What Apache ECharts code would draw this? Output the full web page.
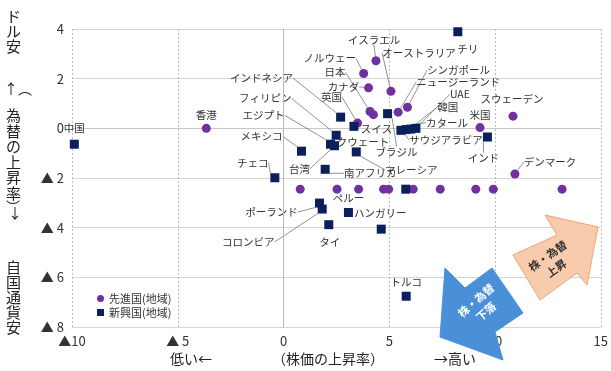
<!DOCTYPE html>
<html><head><meta charset="utf-8">
<script src="https://cdn.jsdelivr.net/npm/echarts@6/dist/echarts.min.js"></script>
<style>html,body{margin:0;padding:0;background:#fff}#c{width:611px;height:371px}</style>
</head><body><div id="c"></div>
<script>
const FONT = '"Noto Sans CJK JP", "Noto Sans", sans-serif';

// ---- data (x: 株価の上昇率 %, y: 為替の上昇率 %) ----
const advNames = ['香港','イスラエル','ノルウェー','カナダ','日本','スイス','英国','オーストラリア','ニュージーランド','シンガポール','米国','スウェーデン','デンマーク','','','','','','','','','',''];
const advX = [-3.65, 4.37, 3.79, 4.02, 4.09, 4.25, 3.50, 5.08, 5.42, 5.86, 9.29, 10.85, 10.94, 0.79, 2.53, 3.55, 4.73, 4.97, 6.13, 7.41, 9.09, 9.92, 13.17];
const advY = [0.0, 2.72, 2.21, 1.63, 0.68, 0.55, 0.21, 1.49, 0.65, 0.85, 0.03, 0.49, -1.84, -2.45, -2.45, -2.45, -2.45, -2.45, -2.45, -2.45, -2.45, -2.45, -2.45];

const emgNames = ['中国','チリ','インドネシア','ブラジル','クウェート','フィリピン','エジプト','台湾','メキシコ','マレーシア','南アフリカ','チェコ','サウジアラビア','カタール','韓国','UAE','インド','','ポーランド','コロンビア','ペルー','タイ','ハンガリー','トルコ'];
const emgX = [-9.89, 8.24, 2.70, 4.92, 3.33, 2.49, 2.22, 2.41, 0.85, 3.44, 1.97, -0.41, 5.55, 5.79, 6.02, 6.26, 9.64, 5.78, 1.70, 1.83, 3.07, 2.14, 4.62, 5.80];
const emgY = [-0.64, 3.89, 0.45, 0.59, 0.08, -0.28, -0.64, -0.70, -0.92, -0.95, -1.65, -1.99, -0.08, -0.05, -0.03, 0.0, -0.35, -2.45, -3.01, -3.25, -3.39, -3.88, -4.06, -6.76];

const seriesNames = ['先進国(地域)', '新興国(地域)'];
const xMin = -10, xMax = 15, xStep = 5;
const yMin = -8, yMax = 4, yStep = 2;

// ---- label placement (offset of label centre from point, px; leader line flag) ----
const advLabelPos = {
  '香港':[0,-13,0], 'イスラエル':[-2,-21,1], 'ノルウェー':[-34,-15,1], 'カナダ':[-25,-1,1],
  '日本':[-35,-39,1], 'スイス':[3,14,0], '英国':[-26,-26,1], 'オーストラリア':[28,-38,1],
  'ニュージーランド':[60,-30,1], 'シンガポール':[51,-37,1], '米国':[0,-13,0],
  'スウェーデン':[-1,-17,0], 'デンマーク':[35,-12,1]
};
const emgLabelPos = {
  '中国':[0,-16,0], 'チリ':[10,17,0], 'インドネシア':[-79,-39,1], 'ブラジル':[9,38,1],
  'クウェート':[9,16,0], 'フィリピン':[-71,-37,1], 'エジプト':[-67,-29,1], '台湾':[-35,23,1],
  'メキシコ':[-40,-15,1], 'マレーシア':[55,18,1], '南アフリカ':[45,4,1], 'チェコ':[-22,-15,1],
  'サウジアラビア':[45,10,1], 'カタール':[41,-7,1], '韓国':[37,-22,1], 'UAE':[44,-34,1],
  'インド':[-4,21,1], 'ポーランド':[-48,9,1], 'コロンビア':[-74,33,1], 'ペルー':[0,-15,0],
  'タイ':[1,17,0], 'ハンガリー':[-1,-16,0], 'トルコ':[0,-14,0]
};

function buildData(names, xs, ys, posMap) {
  return names.map((n, i) => {
    const p = posMap[n];
    return {
      name: n,
      value: [xs[i], ys[i]],
      label: { show: !!p },
      labelLine: { show: !!(p && p[2]) }
    };
  });
}
function layoutFor(names, posMap) {
  return function (params) {
    const p = posMap[names[params.dataIndex]];
    if (!p) return {};
    return { dx: p[0], dy: p[1] };
  };
}
function tri(v) {
  if (v < 0) { const a = Math.abs(v); return a >= 10 ? '▲' + a : '▲ ' + a; }
  return String(v);
}

const labelCommon = {
  show: true, position: 'inside', formatter: '{b}',
  color: '#333', fontSize: 10.5, fontFamily: FONT
};
const lineCommon = { show: true, lineStyle: { color: '#777', width: 0.8 } };

const chart = echarts.init(document.getElementById('c'), null, { renderer: 'canvas' });
chart.setOption({
  animation: false,
  backgroundColor: '#fff',
  textStyle: { fontFamily: FONT },
  grid: { left: 72, right: 9, top: 29, bottom: 44 },
  xAxis: {
    type: 'value', min: xMin, max: xMax, interval: xStep,
    axisLine: { show: true, lineStyle: { color: '#c8c8c8' } },
    axisTick: { show: false },
    axisLabel: { color: '#333', fontSize: 13, margin: 8, formatter: tri, fontFamily: FONT },
    splitLine: { show: true, lineStyle: { color: '#bdbdbd', type: [2, 2], width: 1 } }
  },
  yAxis: {
    type: 'value', min: yMin, max: yMax, interval: yStep,
    axisLine: { show: false },
    axisTick: { show: false },
    axisLabel: { color: '#333', fontSize: 13, margin: 8, formatter: tri, fontFamily: FONT },
    splitLine: { show: true, lineStyle: { color: '#d4d4d4', width: 1 } }
  },
  legend: {
    orient: 'vertical', left: 92, top: 288, itemGap: 3,
    itemWidth: 7, itemHeight: 7,
    textStyle: { color: '#333', fontSize: 11, fontFamily: FONT },
    data: [{ name: seriesNames[0], icon: 'circle' }, { name: seriesNames[1], icon: 'rect' }]
  },
  series: [
    {
      name: seriesNames[0], type: 'scatter', symbol: 'circle', symbolSize: 9,
      itemStyle: { color: '#7030a0', opacity: 1 },
      data: buildData(advNames, advX, advY, advLabelPos),
      label: labelCommon, labelLine: lineCommon,
      labelLayout: layoutFor(advNames, advLabelPos),
      markLine: {
        silent: true, symbol: 'none', label: { show: false },
        lineStyle: { color: '#b8b8b8', type: 'solid', width: 1 },
        data: [{ xAxis: 0 }]
      },
      z: 3
    },
    {
      name: seriesNames[1], type: 'scatter', symbol: 'rect', symbolSize: 9,
      itemStyle: { color: '#0b1f5c', opacity: 1 },
      data: buildData(emgNames, emgX, emgY, emgLabelPos),
      label: labelCommon, labelLine: lineCommon,
      labelLayout: layoutFor(emgNames, emgLabelPos),
      z: 4
    }
  ],
  graphic: [
    // y-axis title (vertical)
    { type: 'text', left: 6, top: 9, style: { text: 'ド\nル\n安', font: '15px ' + FONT, fill: '#222', lineHeight: 15, textAlign: 'left' } },
    { type: 'text', left: 4, top: 82, style: { text: '↑︵', font: '14px ' + FONT, fill: '#222' } },
    { type: 'text', left: 6, top: 108, style: { text: '為\n替\nの\n上\n昇\n率', font: '15px ' + FONT, fill: '#222', lineHeight: 15.5 } },
    { type: 'text', left: 6, top: 200, style: { text: '︶', font: '14px ' + FONT, fill: '#222' } },
    { type: 'text', left: 8, top: 206, style: { text: '↓', font: '14px ' + FONT, fill: '#222' } },
    { type: 'text', left: 6, top: 260, style: { text: '自\n国\n通\n貨\n安', font: '15px ' + FONT, fill: '#222', lineHeight: 15 } },
    // x-axis title
    { type: 'text', left: 170, top: 352, style: { text: '低い←', font: '14px ' + FONT, fill: '#222' } },
    { type: 'text', left: 272, top: 352, style: { text: '（株価の上昇率）', font: '14px ' + FONT, fill: '#222' } },
    { type: 'text', left: 434, top: 352, style: { text: '→高い', font: '14px ' + FONT, fill: '#222' } },
    // arrows
    { type: 'polygon', z: 10, shape: { points: [[513,255],[557,235],[545,215],[598,227],[587,285],[577,273],[540,300]] },
      style: { fill: '#f9cbad', stroke: '#eaa57c', lineWidth: 1 } },
    { type: 'text', z: 11, x: 552, y: 262, rotation: 0.62, originX: 0, originY: 0,
      style: { text: '株・為替\n上昇', font: 'bold 11px ' + FONT, fill: '#333', textAlign: 'center', textVerticalAlign: 'middle', lineHeight: 15 } },
    { type: 'polygon', z: 10, shape: { points: [[440,337],[445,268],[465,288],[492,268],[523,313],[495,332],[503,360]] },
      style: { fill: '#4a90d9', stroke: '#4a90d9', lineWidth: 1 } },
    { type: 'text', z: 11, x: 481, y: 306, rotation: 0.72, originX: 0, originY: 0,
      style: { text: '株・為替\n下落', font: 'bold 11px ' + FONT, fill: '#fff', textAlign: 'center', textVerticalAlign: 'middle', lineHeight: 15 } }
  ]
});
</script>
</body></html>
